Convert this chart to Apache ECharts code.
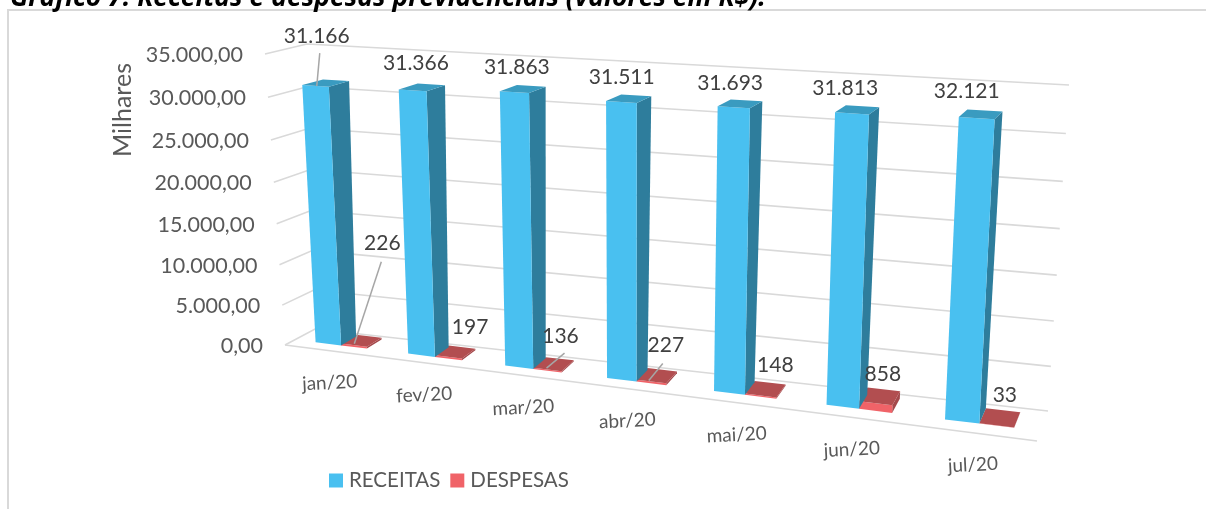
<!DOCTYPE html>
<html><head><meta charset="utf-8">
<style>html,body{margin:0;padding:0;background:#fff}#c{width:1206px;height:509px}</style>
<script src="https://cdn.jsdelivr.net/npm/echarts@6/dist/echarts.min.js"></script>
</head><body><div id="c"></div>
<script>
const categories = ['jan/20','fev/20','mar/20','abr/20','mai/20','jun/20','jul/20'];
const receitas = [31166,31366,31863,31511,31693,31813,32121];
const despesas = [226,197,136,227,148,858,33];
const tickValues = [0,5000,10000,15000,20000,25000,30000,35000];
const tickLabels = ['0,00','5.000,00','10.000,00','15.000,00','20.000,00','25.000,00','30.000,00','35.000,00'];
const seriesNames = ['RECEITAS','DESPESAS'];

// Layout of the 3D box: corners on screen (front/back, bottom/top, left/right)
const FBL=[285,345],FBR=[1037,441],BBL=[315,329],BBR=[1048,411],
      FTL=[265,54],FTR=[1056,98.5],BTL=[307,44],BTR=[1069,85];
const PERSP=1.19, PERSP_V=1.05, BAR_START=0.23, BAR_W=0.28, Z0=0.33, Z1=0.85;
const FONT='Lato';
const TEXT='#595959', LABEL='#404040', GRID='#d9d9d9', LEADER='#a6a6a6';
const labelOffsets=[[[-9,-47],[-6,-24],[-6,-22],[-7,-21],[-10,-21],[-12,-22],[-14,-23]],
                    [[21,-97],[15,-25],[7,-28],[9,-30],[10,-24],[3,-22],[5,-23]]];
const leaders={0:{0:[[-6,-30],[-9,3]]},1:{0:[[20,-79],[-7,3]],2:[[11,-11],[-7,4]],3:[[6,-12],[-8,5]]}};

function lerp(a,b,t){return [a[0]+(b[0]-a[0])*t,a[1]+(b[1]-a[1])*t];}
function project(t,v,z){
  const s=t/(t+PERSP*(1-t));
  const h=v/(v+PERSP_V*(1-v));
  const fb=lerp(FBL,FBR,s),ft=lerp(FTL,FTR,s),bb=lerp(BBL,BBR,s),bt=lerp(BTL,BTR,s);
  return lerp(lerp(fb,ft,h),lerp(bb,bt,h),z);
}
function norm(api,params,i,val){
  const cs=params.coordSys,c=api.coord([i,val]);
  return {t:(c[0]-cs.x)/cs.width,v:(cs.y+cs.height-c[1])/cs.height,band:api.size([1,0])[0]/cs.width};
}
function poly(points,fill){return {type:'polygon',shape:{points},style:{fill,stroke:null}};}
function txt(x,y,text,size,fill,align,rot){
  return {type:'text',x,y,rotation:rot||0,style:{text,fontFamily:FONT,fontSize:size,fill,align:align||'center',verticalAlign:'middle'}};
}
function barRenderer(sIdx,front,side,top){
  return function(params,api){
    const i=api.value(0),val=api.value(1);
    const n=norm(api,params,i,val);
    const bandL=n.t-n.band/2;
    const x0=bandL+n.band*(BAR_START+sIdx*BAR_W),x1=x0+n.band*BAR_W;
    const f=(x,v,z)=>project(x,v,z);
    const children=[
      poly([f(x1,0,Z0),f(x1,0,Z1),f(x1,n.v,Z1),f(x1,n.v,Z0)],side),
      poly([f(x0,0,Z0),f(x1,0,Z0),f(x1,n.v,Z0),f(x0,n.v,Z0)],front),
      poly([f(x0,n.v,Z0),f(x1,n.v,Z0),f(x1,n.v,Z1),f(x0,n.v,Z1)],top)
    ];
    return {type:'group',children};
  };
}
function labelRenderer(params,api){
  const sIdx=api.value(0),i=api.value(1),val=api.value(2);
  const cs=params.coordSys,c=api.coord([i,val]);
  const band=api.size([1,0])[0]/cs.width;
  const t=(c[0]-cs.x)/cs.width-band/2+band*(BAR_START+(sIdx+.5)*BAR_W);
  const v=(cs.y+cs.height-c[1])/cs.height;
  const a=project(t,v,(Z0+Z1)/2);
  const o=labelOffsets[sIdx][i];
  const ch=[txt(a[0]+o[0],a[1]+o[1],val.toLocaleString('pt-BR'),21,LABEL)];
  const l=leaders[sIdx]&&leaders[sIdx][i];
  if(l){ch.push({type:'line',shape:{x1:a[0]+l[0][0],y1:a[1]+l[0][1],x2:a[0]+l[1][0],y2:a[1]+l[1][1]},style:{stroke:LEADER,lineWidth:1.5}});}
  return {type:'group',children:ch};
}
function gridRenderer(params,api){
  const idx=api.value(0),val=api.value(1);
  const n=norm(api,params,0,val);
  const a=project(0,n.v,0),b=project(0,n.v,1),c=project(1,n.v,1);
  const ch=[{type:'polyline',shape:{points:[a,b,c]},style:{stroke:GRID,lineWidth:1.6,fill:null}},
            txt(a[0]-22,a[1]+1,tickLabels[idx],21.5,TEXT,'right')];
  if(val===0) ch.push({type:'line',shape:{x1:a[0],y1:a[1],x2:FBR[0],y2:FBR[1]},style:{stroke:GRID,lineWidth:1.6}});
  return {type:'group',children:ch};
}
function catRenderer(params,api){
  const i=api.value(0);
  const n=norm(api,params,i,0);
  const a=project(n.t,0,0);
  return txt(a[0]-1,a[1]+32,categories[i],19,TEXT,'center',0.05);
}
const chart=echarts.init(document.getElementById('c'),null,{renderer:'canvas'});
chart.setOption({
  animation:false,
  backgroundColor:'#fff',
  title:{text:'Gráfico 7: Receitas e despesas previdenciais (valores em R$).',left:5,top:-20,
    textStyle:{fontFamily:'Open Sans',fontSize:26.5,fontWeight:'bold',fontStyle:'italic',color:'#000'}},
  legend:{left:324,top:465,itemWidth:14,itemHeight:14,itemGap:10,icon:'rect',
    data:seriesNames,textStyle:{fontFamily:FONT,fontSize:20.5,color:TEXT,padding:[0,0,0,1]}},
  graphic:[
    {type:'rect',z:-1,shape:{x:8,y:10,width:1300,height:600},style:{fill:'#fff',stroke:GRID,lineWidth:2}},
    {type:'text',x:123,y:110,rotation:Math.PI/2,style:{text:'Milhares',fontFamily:FONT,fontSize:25,fill:TEXT,align:'center',verticalAlign:'middle'}}
  ],
  grid:{left:285,top:44,width:760,height:300},
  xAxis:{type:'category',data:categories,show:false},
  yAxis:{type:'value',min:0,max:35000,interval:5000,show:false},
  series:[
    {type:'custom',name:'grid',z:1,silent:true,clip:false,renderItem:gridRenderer,
      encode:{x:0,y:1},data:tickValues.map((v,k)=>[k,v])},
    {type:'custom',name:'cat',z:1,silent:true,clip:false,renderItem:catRenderer,
      data:categories.map((c,i)=>[i,0])},
    {type:'custom',name:seriesNames[1],z:2,clip:false,renderItem:barRenderer(1,'#F06368','#A4484B','#B24E50'),
      itemStyle:{color:'#F06368'},encode:{x:0,y:1},data:despesas.map((v,i)=>[i,v])},
    {type:'custom',name:seriesNames[0],z:3,clip:false,renderItem:barRenderer(0,'#49C0F0','#2E7D9C','#3A9BC0'),
      itemStyle:{color:'#49C0F0'},encode:{x:0,y:1},data:receitas.map((v,i)=>[i,v])},
    {type:'custom',name:'labels',z:5,silent:true,clip:false,renderItem:labelRenderer,encode:{x:1,y:2},
      data:[...receitas.map((v,i)=>[0,i,v]),...despesas.map((v,i)=>[1,i,v])]}
  ]
});
</script></body></html>
